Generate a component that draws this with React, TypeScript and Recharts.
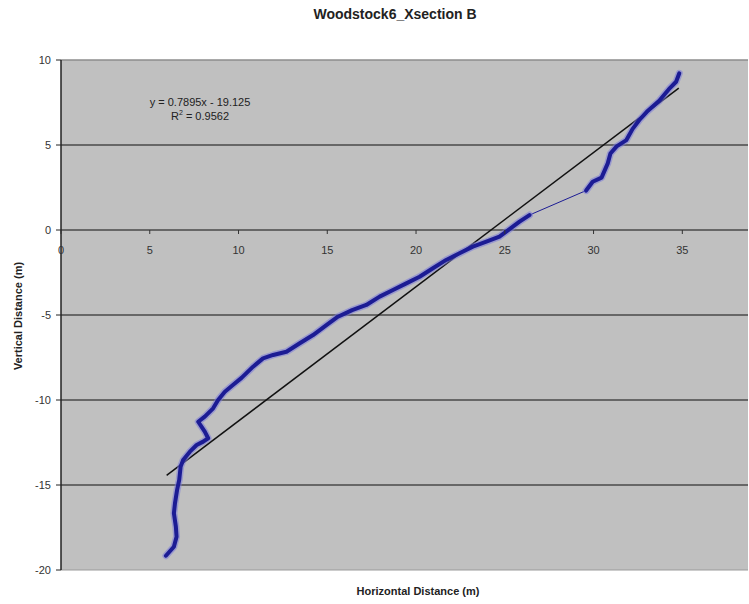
import { LineChart, Line, XAxis, YAxis, CartesianGrid, ReferenceLine, ReferenceDot } from "recharts";

// Woodstock6 cross-section B: surveyed profile (two surveyed runs) + linear trend

const lowerX = [
    5.91, 6.36, 6.51, 6.47, 6.36, 6.42, 6.54, 6.66, 6.74, 6.88, 7.26, 7.64, 8.01, 8.29, 8.1, 7.73,
    8.1, 8.57, 8.85, 9.23, 9.7, 10.17, 10.82, 11.38, 11.95, 12.7, 13.45, 14.2, 14.95, 15.6, 16.4,
    17.2, 17.95, 18.7, 19.45, 20.2, 20.95, 21.7, 22.45, 23.2, 23.96, 24.7, 25.08, 25.83, 26.39,
];
const lowerY = [
    -19.16, -18.63, -18.04, -17.45, -16.66, -16.08, -15.29, -14.7, -13.92, -13.53, -13.04, -12.65,
    -12.45, -12.25, -11.86, -11.28, -10.98, -10.49, -10.0, -9.51, -9.1, -8.7, -8.04, -7.55, -7.35,
    -7.16, -6.66, -6.18, -5.59, -5.1, -4.71, -4.41, -3.92, -3.53, -3.14, -2.75, -2.25, -1.76,
    -1.37, -0.98, -0.69, -0.39, -0.1, 0.49, 0.88,
];

const upperX = [29.58, 29.95, 30.45, 30.8, 30.95, 31.3, 31.85, 32.2, 32.58, 33.0, 33.7, 34.3, 34.65, 34.83];
const upperY = [2.32, 2.84, 3.08, 3.92, 4.5, 4.92, 5.29, 5.95, 6.47, 6.95, 7.6, 8.35, 8.72, 9.22];

// trendline ends, y = 0.7895x - 19.125
const trendX = [5.95, 34.8];
const trendY = [-14.43, 8.35];

const xTicks = [0, 5, 10, 15, 20, 25, 30, 35];
const yTicks = [-20, -15, -10, -5, 0, 5, 10];
const gridY = [-15, -10, -5, 0, 5];

const lower = lowerX.map((x, i) => ({ x, y: lowerY[i] }));
const upper = upperX.map((x, i) => ({ x, y: upperY[i] }));
const gap = [lower[lower.length - 1], upper[0]];
const trend = trendX.map((x, i) => ({ x, y: trendY[i] }));

const FONT = "'Liberation Sans', Arial, sans-serif";
const NAVY = "#1c1c94";
const HALO = "#7a7ad8";

export default function App() {
    return (
        <div style={{ position: "absolute", left: 0, top: 0, width: 749, height: 604, background: "#fff", fontFamily: FONT }}>
            <LineChart width={749} height={604} margin={{ top: 60, right: 1, bottom: 34, left: 0 }}>
                <CartesianGrid fill="#c0c0c0" horizontal={false} vertical={false} />
                <XAxis dataKey="x" type="number" domain={[0, 38.7]} allowDataOverflow hide />
                <YAxis
                    type="number"
                    domain={[-20, 10]}
                    ticks={yTicks}
                    width={61}
                    tickSize={5}
                    tickMargin={5}
                    axisLine={{ stroke: "#222", strokeWidth: 1.5 }}
                    tickLine={{ stroke: "#222" }}
                    tick={{ fill: "#333", fontSize: 11, fontFamily: FONT }}
                />
                <ReferenceLine y={10} stroke="#8c8c8c" strokeWidth={1.5} />
                <ReferenceLine y={-20} stroke="#9a9a9a" strokeWidth={1} />
                {gridY.map((v) => (
                    <ReferenceLine key={v} y={v} stroke="#4a4a4a" strokeWidth={1.6} />
                ))}
                {xTicks.map((t) => (
                    <ReferenceDot
                        key={t}
                        x={t}
                        y={0}
                        r={0}
                        shape={(p: any) => (
                            <g>
                                <line x1={p.cx} y1={p.cy} x2={p.cx} y2={p.cy + 4} stroke="#333" />
                                <text x={p.cx} y={p.cy + 24} textAnchor="middle" fontSize={11} fill="#333" fontFamily={FONT}>
                                    {t}
                                </text>
                            </g>
                        )}
                    />
                ))}
                <Line data={trend} dataKey="y" type="linear" stroke="#111" strokeWidth={1.5} dot={false} isAnimationActive={false} />
                <Line data={gap} dataKey="y" type="linear" stroke={NAVY} strokeWidth={1} dot={false} isAnimationActive={false} />
                <Line data={lower} dataKey="y" type="linear" stroke={HALO} strokeOpacity={0.55} strokeWidth={7} strokeLinejoin="round" strokeLinecap="round" dot={false} isAnimationActive={false} />
                <Line data={upper} dataKey="y" type="linear" stroke={HALO} strokeOpacity={0.55} strokeWidth={7} strokeLinejoin="round" strokeLinecap="round" dot={false} isAnimationActive={false} />
                <Line data={lower} dataKey="y" type="linear" stroke={NAVY} strokeWidth={4} strokeLinejoin="round" strokeLinecap="round" dot={false} isAnimationActive={false} />
                <Line data={upper} dataKey="y" type="linear" stroke={NAVY} strokeWidth={4} strokeLinejoin="round" strokeLinecap="round" dot={false} isAnimationActive={false} />
            </LineChart>

            <div style={{ position: "absolute", left: 0, width: 790, top: 6, textAlign: "center", fontSize: 14, fontWeight: "bold", color: "#222" }}>
                Woodstock6_Xsection B
            </div>
            <div style={{ position: "absolute", left: 100, width: 200, top: 95, textAlign: "center", fontSize: 11, lineHeight: "14px", color: "#222" }}>
                <div>y = 0.7895x - 19.125</div>
                <div>
                    R<sup style={{ fontSize: 7, verticalAlign: "top", lineHeight: "8px" }}>2</sup> = 0.9562
                </div>
            </div>
            <div style={{ position: "absolute", left: 318, width: 200, top: 585, textAlign: "center", fontSize: 11, fontWeight: "bold", color: "#222" }}>
                Horizontal Distance (m)
            </div>
            <div
                style={{
                    position: "absolute",
                    left: 18,
                    top: 316,
                    transform: "translate(-50%, -50%) rotate(-90deg)",
                    whiteSpace: "nowrap",
                    fontSize: 11,
                    fontWeight: "bold",
                    color: "#222",
                }}
            >
                Vertical Distance (m)
            </div>
        </div>
    );
}
